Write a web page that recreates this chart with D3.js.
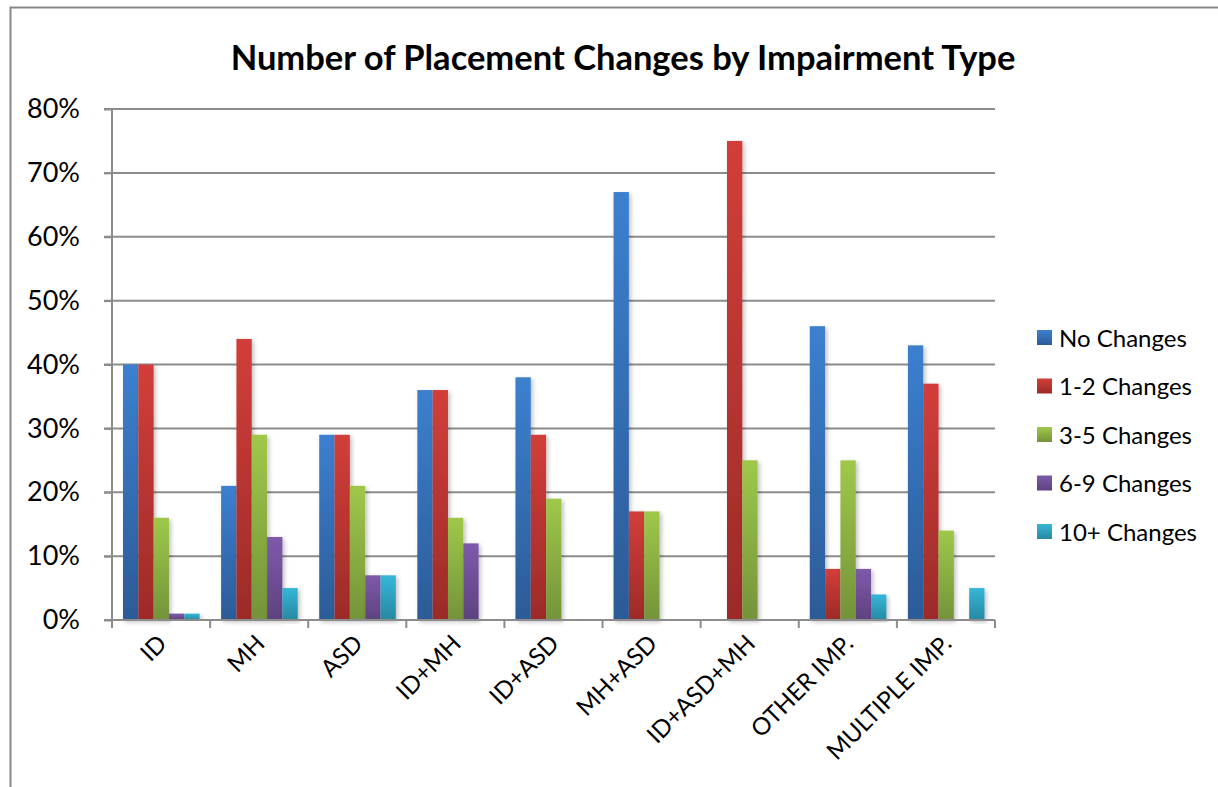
<!DOCTYPE html>
<html>
<head>
<meta charset="utf-8">
<script src="https://cdn.jsdelivr.net/npm/d3@7"></script>
<style>
  body { margin: 0; background: #fff; }
  text { font-family: Lato, "Open Sans", sans-serif; fill: #000; }
</style>
</head>
<body>
<div id="chart"></div>
<script>
var categories = ["ID", "MH", "ASD", "ID+MH", "ID+ASD", "MH+ASD", "ID+ASD+MH", "OTHER IMP.", "MULTIPLE IMP."];
var seriesNames = ["No Changes", "1-2 Changes", "3-5 Changes", "6-9 Changes", "10+ Changes"];
var noChanges   = [40, 21, 29, 36, 38, 67, 0, 46, 43];
var oneTwo      = [40, 44, 29, 36, 29, 17, 75, 8, 37];
var threeFive   = [16, 29, 21, 16, 19, 17, 25, 25, 14];
var sixNine     = [1, 13, 7, 12, 0, 0, 0, 8, 0];
var tenPlus     = [1, 5, 7, 0, 0, 0, 0, 4, 5];
var yTicks = [0, 10, 20, 30, 40, 50, 60, 70, 80];

var seriesValues = [noChanges, oneTwo, threeFive, sixNine, tenPlus];
var topColors = ["#3c80d0", "#d23e3a", "#9fc84a", "#7e5aab", "#36b6d8"];
var botColors = ["#2c5b97", "#9c2b28", "#74933a", "#5e4280", "#2789a2"];

var width = 1218, height = 787;
var margin = { left: 112, right: 223, top: 109, bottom: 167 };

function translate(x, y) { return "translate(" + x + "," + y + ")"; }

var svg = d3.select("#chart").append("svg")
    .attr("width", width)
    .attr("height", height);

var defs = svg.append("defs");
topColors.forEach(function(c, i) {
    var g = defs.append("linearGradient")
        .attr("id", "grad" + i)
        .attr("x1", 0).attr("y1", 0).attr("x2", 0).attr("y2", 1);
    g.append("stop").attr("offset", "0%").attr("stop-color", c);
    g.append("stop").attr("offset", "100%").attr("stop-color", botColors[i]);
});
var shadow = defs.append("filter").attr("id", "shadow")
    .attr("x", "-20%").attr("y", "-5%").attr("width", "160%").attr("height", "115%");
shadow.append("feDropShadow")
    .attr("dx", 2).attr("dy", 2).attr("stdDeviation", 2)
    .attr("flood-color", "#000").attr("flood-opacity", 0.25);

// chart frame (only top and left edges visible)
svg.append("path")
    .attr("d", "M10.5," + height + "V7.5H" + width)
    .attr("fill", "none")
    .attr("stroke", "#888")
    .attr("stroke-width", 2);

svg.append("text")
    .attr("x", 623)
    .attr("y", 70)
    .attr("text-anchor", "middle")
    .style("font-weight", "bold")
    .style("font-size", "34.5px")
    .text("Number of Placement Changes by Impairment Type");

var plotW = width - margin.left - margin.right,
    plotH = height - margin.top - margin.bottom;

var xScale = d3.scaleBand()
    .domain(categories)
    .range([0, plotW])
    .paddingInner(0)
    .paddingOuter(0);

var xSub = d3.scaleBand()
    .domain(d3.range(seriesNames.length))
    .range([11, xScale.bandwidth() - 10.5]);

var yScale = d3.scaleLinear()
    .domain([0, 80])
    .range([plotH, 0]);

var g = svg.append("g").attr("transform", translate(margin.left, margin.top));

// gridlines
g.append("g")
    .selectAll("line")
    .data(yTicks)
    .enter().append("line")
    .attr("x1", -8)
    .attr("x2", plotW)
    .attr("y1", function(d) { return yScale(d); })
    .attr("y2", function(d) { return yScale(d); })
    .attr("stroke", "#8c8c8c")
    .attr("stroke-width", 2);

// bars
var groups = g.selectAll(".cat")
    .data(categories)
    .enter().append("g")
    .attr("class", "cat")
    .attr("transform", function(d) { return translate(xScale(d), 0); });

groups.selectAll("rect")
    .data(function(d, ci) {
        return seriesValues.map(function(vals, si) { return { s: si, v: vals[ci] }; });
    })
    .enter().append("rect")
    .filter(function(d) { return d.v > 0; })
    .attr("x", function(d) { return xSub(d.s); })
    .attr("width", xSub.bandwidth())
    .attr("y", function(d) { return yScale(d.v); })
    .attr("height", function(d) { return plotH - yScale(d.v); })
    .attr("fill", function(d) { return "url(#grad" + d.s + ")"; })
    .attr("filter", "url(#shadow)");

// y axis
var yAxis = d3.axisLeft(yScale)
    .tickValues(yTicks)
    .tickSize(8)
    .tickPadding(24)
    .tickFormat(function(d) { return d + "%"; });
var yg = g.append("g").attr("class", "y-axis").call(yAxis);
yg.select(".domain").attr("stroke", "#8c8c8c").attr("stroke-width", 2).attr("d", "M0," + plotH + "V0");
yg.selectAll(".tick line").attr("stroke", "#8c8c8c").attr("stroke-width", 2);
yg.selectAll(".tick text")
    .style("font-size", "27px")
    .attr("fill", "#000");

// x axis
var xAxis = d3.axisBottom(xScale).tickSize(0).tickFormat("");
var xg = g.append("g").attr("class", "x-axis").attr("transform", translate(0, plotH)).call(xAxis);
xg.select(".domain").attr("stroke", "#8c8c8c").attr("stroke-width", 2).attr("d", "M0,0H" + plotW);
xg.selectAll(".boundary")
    .data(d3.range(categories.length + 1))
    .enter().append("line")
    .attr("x1", function(d) { return d * xScale.step(); })
    .attr("x2", function(d) { return d * xScale.step(); })
    .attr("y1", 0)
    .attr("y2", 8)
    .attr("stroke", "#8c8c8c")
    .attr("stroke-width", 2);

xg.selectAll(".xlabel")
    .data(categories)
    .enter().append("text")
    .attr("class", "xlabel")
    .attr("text-anchor", "end")
    .style("font-size", "24px")
    .attr("transform", function(d) {
        return translate(xScale(d) + xScale.bandwidth() / 2 + 7, 25) + " rotate(-45)";
    })
    .text(function(d) { return d; });

// legend
var legend = svg.append("g").attr("transform", translate(1037, 338));
var items = legend.selectAll(".item")
    .data(seriesNames)
    .enter().append("g")
    .attr("class", "item")
    .attr("transform", function(d, i) { return translate(0, i * 48.5); });
items.append("rect")
    .attr("x", 0)
    .attr("y", -8)
    .attr("width", 15)
    .attr("height", 15)
    .attr("fill", function(d, i) { return "url(#grad" + i + ")"; });
items.append("text")
    .attr("x", 22)
    .attr("y", 8.5)
    .style("font-size", "24px")
    .text(function(d) { return d; });
</script>
</body>
</html>
